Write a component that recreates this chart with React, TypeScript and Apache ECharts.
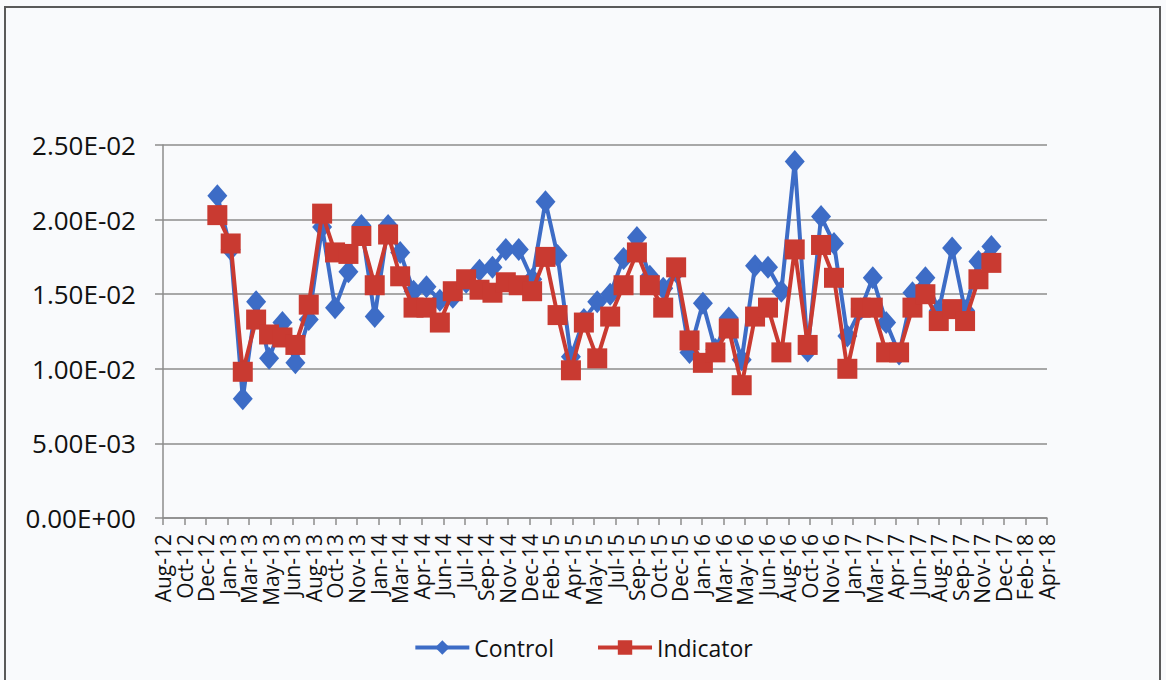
import React, { useEffect, useRef } from "react";
import * as echarts from "echarts";

// Monthly observation dates
const months = [
  "2013-01", "2013-02", "2013-03", "2013-04", "2013-05", "2013-06", "2013-07", "2013-08", "2013-09", "2013-10", "2013-11", "2013-12",
  "2014-01", "2014-02", "2014-03", "2014-04", "2014-05", "2014-06", "2014-07", "2014-08", "2014-09", "2014-10", "2014-11", "2014-12",
  "2015-01", "2015-02", "2015-03", "2015-04", "2015-05", "2015-06", "2015-07", "2015-08", "2015-09", "2015-10", "2015-11", "2015-12",
  "2016-01", "2016-02", "2016-03", "2016-04", "2016-05", "2016-06", "2016-07", "2016-08", "2016-09", "2016-10", "2016-11", "2016-12",
  "2017-01", "2017-02", "2017-03", "2017-04", "2017-05", "2017-06", "2017-07", "2017-08", "2017-09", "2017-10", "2017-11", "2017-12",
];

const control = [
  0.0216, 0.0180, 0.0080, 0.0145, 0.0107, 0.0131, 0.0104, 0.0133, 0.0195, 0.0141, 0.0165, 0.0196,
  0.0135, 0.0196, 0.0178, 0.0152, 0.0155, 0.0146, 0.0148, 0.0158, 0.0166, 0.0168, 0.0180, 0.0180,
  0.0160, 0.0212, 0.0176, 0.0108, 0.0133, 0.0145, 0.0150, 0.0174, 0.0188, 0.0162, 0.0154, 0.0165,
  0.0111, 0.0144, 0.0113, 0.0134, 0.0106, 0.0169, 0.0168, 0.0152, 0.0239, 0.0112, 0.0202, 0.0184,
  0.0122, 0.0140, 0.0161, 0.0131, 0.0110, 0.0151, 0.0161, 0.0139, 0.0181, 0.0139, 0.0172, 0.0182,
];

const indicator = [
  0.0203, 0.0184, 0.0098, 0.0133, 0.0123, 0.0121, 0.0116, 0.0143, 0.0204, 0.0178, 0.0177, 0.0189,
  0.0156, 0.0190, 0.0162, 0.0141, 0.0141, 0.0131, 0.0152, 0.0160, 0.0153, 0.0151, 0.0158, 0.0156,
  0.0152, 0.0175, 0.0136, 0.0099, 0.0131, 0.0107, 0.0135, 0.0156, 0.0178, 0.0156, 0.0141, 0.0168,
  0.0119, 0.0104, 0.0111, 0.0127, 0.0089, 0.0135, 0.0141, 0.0111, 0.0180, 0.0116, 0.0183, 0.0161,
  0.0100, 0.0141, 0.0141, 0.0111, 0.0111, 0.0141, 0.0150, 0.0132, 0.0140, 0.0132, 0.0160, 0.0171,
];

// Date axis: first tick on 28 Aug 2012, one tick every 50 days
const AXIS_START = Date.UTC(2012, 7, 28);
const DAY_MS = 86400000;
const TICK_DAYS = 50;
const TICK_COUNT = 41;
const MONTH_NAMES = ["Jan", "Feb", "Mar", "Apr", "May", "Jun", "Jul", "Aug", "Sep", "Oct", "Nov", "Dec"];

const dayOffset = (ym: string) => {
  const [y, m] = ym.split("-").map(Number);
  return Math.round((Date.UTC(y, m - 1, 1) - AXIS_START) / DAY_MS);
};

const dateLabel = (v: number) => {
  const d = new Date(AXIS_START + v * DAY_MS);
  return MONTH_NAMES[d.getUTCMonth()] + "-" + String(d.getUTCFullYear() % 100).padStart(2, "0");
};

const sciLabel = (v: number) => {
  const [mant, exp] = v.toExponential(2).split("e");
  const n = parseInt(exp, 10);
  const sign = n < 0 ? "-" : "+";
  return mant + "E" + sign + String(Math.abs(n)).padStart(2, "0");
};

const FONT = "'Open Sans', 'Noto Sans', sans-serif";
const BLUE = "#3d6cc6";
const RED = "#c93a31";
const GRID_GRAY = "#8c8c8c";

export default function App() {
  const ref = useRef<HTMLDivElement>(null);

  useEffect(() => {
    if (!ref.current) return;
    const chart = echarts.init(ref.current, undefined, { renderer: "svg" });
    chart.setOption({
      animation: false,
      backgroundColor: "#f9fafc",
      textStyle: { fontFamily: FONT },
      graphic: [
        {
          type: "rect",
          shape: { x: 5, y: 7, width: 1155, height: 700 },
          style: { fill: "none", stroke: "#5a5a5a", lineWidth: 2 },
          silent: true,
        },
      ],
      grid: { left: 163, right: 119, top: 145, bottom: 162 },
      legend: {
        bottom: 16,
        left: "center",
        itemWidth: 54,
        itemHeight: 18,
        itemGap: 42,
        lineStyle: { width: 4 },
        textStyle: { fontFamily: FONT, fontSize: 23, color: "#111" },
        data: ["Control", "Indicator"],
      },
      xAxis: {
        type: "value",
        min: 0,
        max: TICK_DAYS * TICK_COUNT,
        interval: TICK_DAYS,
        axisLine: { show: true, lineStyle: { color: GRID_GRAY, width: 1.5 } },
        axisTick: { show: true, length: 7, lineStyle: { color: GRID_GRAY, width: 1.5 } },
        splitLine: { show: false },
        axisLabel: {
          rotate: 90,
          margin: 16,
          fontSize: 21,
          lineHeight: 16,
          color: "#111",
          fontFamily: FONT,
          showMinLabel: true,
          showMaxLabel: true,
          hideOverlap: false,
          formatter: (v: number) => dateLabel(v),
        },
      },
      yAxis: {
        type: "value",
        min: 0,
        max: 0.025,
        interval: 0.005,
        axisLine: { show: true, lineStyle: { color: GRID_GRAY, width: 1.5 } },
        axisTick: { show: true, length: 8, lineStyle: { color: GRID_GRAY, width: 1.5 } },
        splitLine: { show: true, lineStyle: { color: GRID_GRAY, width: 1.5 } },
        axisLabel: {
          margin: 27,
          fontSize: 26,
          color: "#111",
          fontFamily: FONT,
          formatter: (v: number) => sciLabel(v),
        },
      },
      series: [
        {
          name: "Control",
          type: "line",
          data: months.map((m, i) => [dayOffset(m), control[i]]),
          symbol: "diamond",
          symbolSize: [20, 23],
          lineStyle: { color: BLUE, width: 4 },
          itemStyle: { color: BLUE },
          z: 2,
        },
        {
          name: "Indicator",
          type: "line",
          data: months.map((m, i) => [dayOffset(m), indicator[i]]),
          symbol: "rect",
          symbolSize: 20,
          lineStyle: { color: RED, width: 4 },
          itemStyle: { color: RED },
          z: 3,
        },
      ],
    });
    return () => chart.dispose();
  }, []);

  return (
    <div
      ref={ref}
      style={{ position: "absolute", left: 0, top: 0, width: 1166, height: 680 }}
    />
  );
}
